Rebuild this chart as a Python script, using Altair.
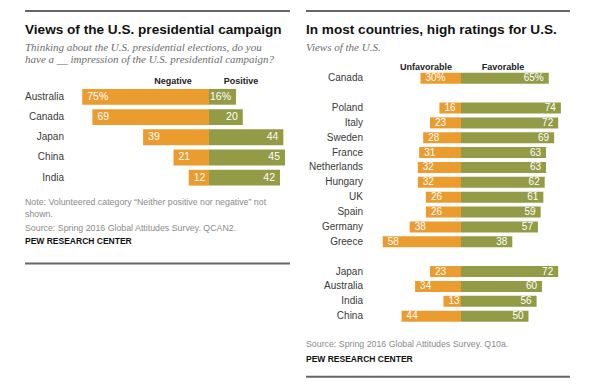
import altair as alt
import pandas as pd

# ---------------- data ----------------
left_countries = ["Australia", "Canada", "Japan", "China", "India"]
left_negative = [75, 69, 39, 21, 12]
left_positive = [16, 20, 44, 45, 42]

right_groups = [
    ["Canada"],
    ["Poland", "Italy", "Sweden", "France", "Netherlands", "Hungary", "UK", "Spain", "Germany", "Greece"],
    ["Japan", "Australia", "India", "China"],
]
right_unfavorable = [30, 16, 23, 28, 31, 32, 32, 26, 26, 38, 58, 23, 34, 13, 44]
right_favorable = [65, 74, 72, 69, 63, 63, 62, 61, 59, 57, 38, 72, 60, 56, 50]

left_title = "Views of the U.S. presidential campaign"
left_subtitle = ["Thinking about the U.S. presidential elections, do you",
                 "have a __ impression of the U.S. presidential campaign?"]
left_headers = ["Negative", "Positive"]
left_notes = ["Note: Volunteered category \u201cNeither positive nor negative\u201d not", "shown."]
left_source = "Source: Spring 2016 Global Attitudes Survey. QCAN2."

right_title = "In most countries, high ratings for U.S."
right_subtitle = "Views of the U.S."
right_headers = ["Unfavorable", "Favorable"]
right_source = "Source: Spring 2016 Global Attitudes Survey. Q10a."
credit = "PEW RESEARCH CENTER"

ORANGE = "#EB9C2F"
GREEN = "#949B46"
SANS = "Liberation Sans"
SERIF = "Liberation Serif"
W, H = 290, 370


def Y(ry):
    return (ry - 5) * 0.975 + 3


def txt(text, x, y, size, color, weight="normal", style="normal", font=SANS, align="left"):
    return alt.Chart(pd.DataFrame({"t": [text]})).mark_text(
        align=align, baseline="middle", fontSize=size, color=color,
        fontWeight=weight, fontStyle=style, font=font
    ).encode(x=alt.value(x), y=alt.value(y), text="t:N")


def rule(x1, x2, y):
    return alt.Chart(pd.DataFrame({"a": [0]})).mark_rule(color="#666666", strokeWidth=2).encode(
        x=alt.value(x1), x2=alt.value(x2), y=alt.value(y))


def panel(df, zero_px, px_per_unit, row0_px, row_step, half, label_x, label_size):
    xdom = [-zero_px / px_per_unit, (W - zero_px) / px_per_unit]
    ydom = [-row0_px / row_step, (H - row0_px) / row_step]
    xs = alt.Scale(domain=xdom, nice=False, zero=False)
    ys = alt.Scale(domain=ydom, nice=False, zero=False, reverse=True)
    df = df.copy()
    df["negx"] = -df["neg"]
    df["zero"] = 0
    df["y1"] = df["row"] - half
    df["y2"] = df["row"] + half
    base = alt.Chart(df)
    neg = base.mark_rect(color=ORANGE).encode(
        x=alt.X("negx:Q", scale=xs, axis=None), x2="zero:Q",
        y=alt.Y("y1:Q", scale=ys, axis=None), y2="y2:Q")
    pos = base.mark_rect(color=GREEN).encode(
        x=alt.X("zero:Q", scale=xs, axis=None), x2="pos:Q",
        y=alt.Y("y1:Q", scale=ys, axis=None), y2="y2:Q")
    neg_t = base.mark_text(align="left", baseline="middle", dx=5, color="white",
                           fontSize=label_size, font=SANS).encode(
        x=alt.X("negx:Q", scale=xs, axis=None), y=alt.Y("row:Q", scale=ys, axis=None), text="neg_label:N")
    pos_t = base.mark_text(align="right", baseline="middle", dx=-5, color="white",
                           fontSize=label_size, font=SANS).encode(
        x=alt.X("pos:Q", scale=xs, axis=None), y=alt.Y("row:Q", scale=ys, axis=None), text="pos_label:N")
    names = base.mark_text(align="right", baseline="middle", color="#3a3a3a",
                           fontSize=10, font=SANS).encode(
        x=alt.value(label_x), y=alt.Y("row:Q", scale=ys, axis=None), text="country:N")
    return [neg, pos, neg_t, pos_t, names]


# ---------------- left panel ----------------
ldf = pd.DataFrame({
    "country": left_countries,
    "row": list(range(len(left_countries))),
    "neg": left_negative,
    "pos": left_positive,
})
ldf["neg_label"] = [f"{v}%" if i == 0 else str(v) for i, v in enumerate(left_negative)]
ldf["pos_label"] = [f"{v}%" if i == 0 else str(v) for i, v in enumerate(left_positive)]

left_layers = panel(ldf, zero_px=201, px_per_unit=1.69, row0_px=Y(93), row_step=20.75 * 0.975,
                    half=0.39, label_x=56, label_size=10.5)
left_layers += [
    rule(17, 282, Y(5)),
    txt(left_title, 17, Y(24), 13.6, "#111111", weight="bold"),
    txt(left_subtitle[0], 17, Y(43), 11, "#6d6d6d", style="italic", font=SERIF),
    txt(left_subtitle[1], 17, Y(55), 11, "#6d6d6d", style="italic", font=SERIF),
    txt(left_headers[0], 165, Y(77), 9, "#222222", weight="bold", align="center"),
    txt(left_headers[1], 233, Y(77), 9, "#222222", weight="bold", align="center"),
    txt(left_notes[0], 17, Y(201), 8.8, "#8a8a8a"),
    txt(left_notes[1], 17, Y(213), 8.8, "#8a8a8a"),
    txt(left_source, 17, Y(228), 8.8, "#8a8a8a"),
    txt(credit, 17, Y(241), 8.5, "#111111", weight="bold"),
    rule(17, 282, Y(264)),
]
left = alt.layer(*left_layers).properties(width=W, height=H)

# ---------------- right panel ----------------
rows, names = [], []
r = 0
for g in right_groups:
    for c in g:
        names.append(c)
        rows.append(r)
        r += 1
    r += 1
rdf = pd.DataFrame({"country": names, "row": rows, "neg": right_unfavorable, "pos": right_favorable})
rdf["neg_label"] = [f"{v}%" if i == 0 else str(v) for i, v in enumerate(right_unfavorable)]
rdf["pos_label"] = [f"{v}%" if i == 0 else str(v) for i, v in enumerate(right_favorable)]

right_layers = panel(rdf, zero_px=163, px_per_unit=1.35, row0_px=Y(74), row_step=15.25 * 0.975,
                     half=0.37, label_x=65, label_size=10)
right_layers += [
    rule(8, 272, Y(5)),
    txt(right_title, 8, Y(24), 13.6, "#111111", weight="bold"),
    txt(right_subtitle, 8, Y(43), 11, "#6d6d6d", style="italic", font=SERIF),
    txt(right_headers[0], 128, Y(62), 9, "#222222", weight="bold", align="center"),
    txt(right_headers[1], 205, Y(62), 9, "#222222", weight="bold", align="center"),
    txt(right_source, 8, Y(347), 8.8, "#8a8a8a"),
    txt(credit, 8, Y(362), 8.5, "#111111", weight="bold"),
    rule(8, 272, Y(380)),
]
right = alt.layer(*right_layers).properties(width=W, height=H)

chart = alt.hconcat(left, right, spacing=0).properties(
    padding=0, background="white"
).configure_view(stroke=None)

chart.save("out.html", embed_options={"renderer": "svg", "actions": False})
